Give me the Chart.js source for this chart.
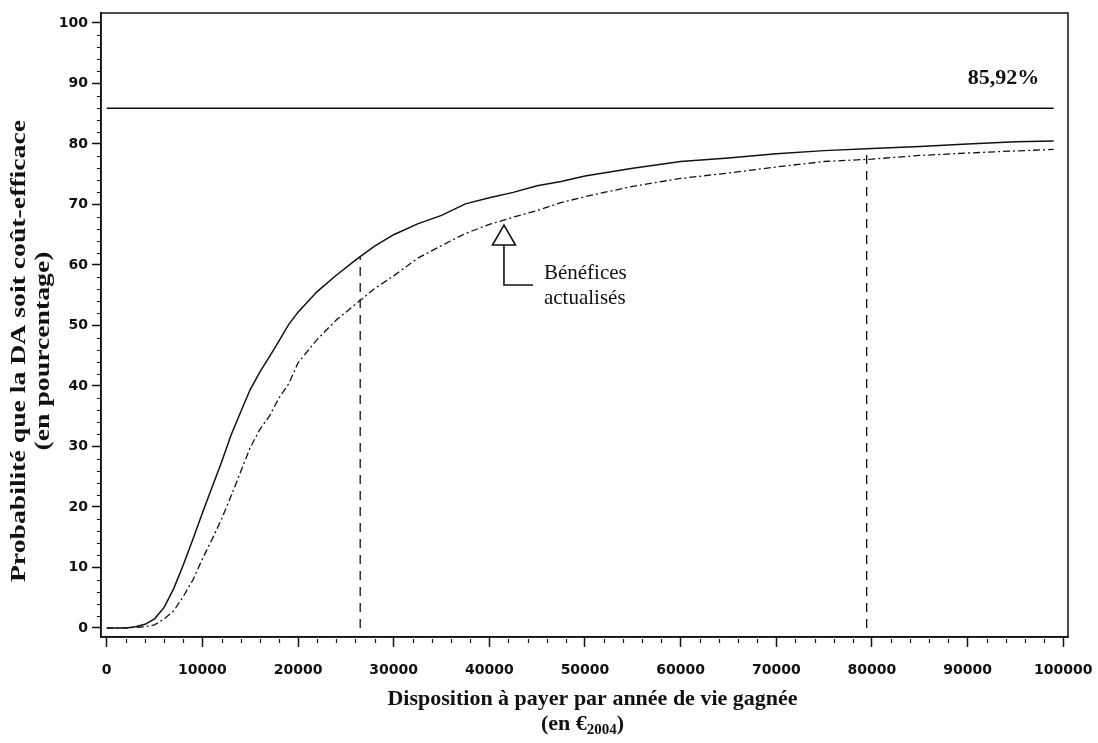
<!DOCTYPE html>
<html lang="fr">
<head>
    <meta charset="UTF-8">
    <title>Courbe d'acceptabilité</title>
    <script src="https://cdn.jsdelivr.net/npm/chart.js"></script>
    <style>
        body {
            margin: 0;
            padding: 0;
            background-color: #fff;
            overflow: hidden;
        }
    </style>
</head>
<body>
    <canvas id="ceacChart" width="1098" height="743"></canvas>

    <script>
        // Disposition à payer (euros 2004)
        const wtp = [0, 2000, 3000, 4000, 5000, 6000, 7000, 8000, 9000, 10000,
            11000, 12000, 13000, 14000, 15000, 16000, 17000, 18000, 19000, 20000,
            22000, 24000, 26000, 28000, 30000, 32500, 35000, 37500, 40000, 42500,
            45000, 47500, 50000, 55000, 60000, 65000, 70000, 75000, 80000, 85000,
            90000, 95000, 99000];

        // Probabilité coût-efficace (%), bénéfices non actualisés (trait plein)
        const probUndiscounted = [0, 0, 0.2, 0.6, 1.5, 3.4, 6.5, 10.4, 14.6, 19,
            23.2, 27.4, 31.9, 35.7, 39.4, 42.3, 44.8, 47.4, 50.1, 52.2,
            55.6, 58.3, 60.8, 63.1, 65, 66.8, 68.2, 70.1, 71.1, 72.0,
            73.1, 73.8, 74.7, 76.0, 77.1, 77.7, 78.4, 78.9, 79.25, 79.6,
            80.0, 80.35, 80.5];

        // Probabilité coût-efficace (%), bénéfices actualisés (trait mixte)
        const probDiscounted = [0, 0, 0.1, 0.2, 0.5, 1.5, 2.8, 5.2, 7.9, 11.4,
            14.6, 18.0, 21.8, 25.8, 29.8, 32.8, 35.0, 38.0, 40.3, 43.8,
            47.7, 50.9, 53.5, 56.1, 58.2, 61.1, 63.2, 65.2, 66.7, 67.9,
            69.0, 70.3, 71.3, 73.0, 74.3, 75.2, 76.2, 77.1, 77.5, 78.1,
            78.5, 78.85, 79.1];

        // Probabilité maximale
        const maxProb = 85.92;
        const maxProbX = [0, 99000];

        // Seuils marqués par des tirets verticaux
        const cutoffX = [26500, 79450];
        const cutoffY = [61.4, 79.2];

        // Ticks
        const xTicks = [0, 10000, 20000, 30000, 40000, 50000, 60000, 70000, 80000, 90000, 100000];
        const yTicks = [0, 10, 20, 30, 40, 50, 60, 70, 80, 90, 100];

        // Flèche "Bénéfices actualisés"
        const arrowPoint = { x: 41530, y: 66.6 };
        const arrowLabel = ['Bénéfices', 'actualisés'];

        const serif = '"Liberation Serif", "Times New Roman", serif';
        const tickFont = { family: '"DejaVu Sans", sans-serif', size: 14, weight: 'bold' };

        function toPoints(xs, ys) {
            return xs.map((x, i) => ({ x: x, y: ys[i] }));
        }

        const datasets = [
            {
                data: toPoints(wtp, probUndiscounted),
                borderColor: '#111',
                borderWidth: 1.5
            },
            {
                data: toPoints(wtp, probDiscounted),
                borderColor: '#111',
                borderWidth: 1.3,
                borderDash: [7, 3, 2, 3]
            },
            {
                data: toPoints(maxProbX, [maxProb, maxProb]),
                borderColor: '#111',
                borderWidth: 1.5
            }
        ];

        cutoffX.forEach((cx, i) => {
            datasets.push({
                data: [{ x: cx, y: 0 }, { x: cx, y: cutoffY[i] }],
                borderColor: '#111',
                borderWidth: 1.3,
                borderDash: [9, 7]
            });
        });

        // Cadre, petites graduations, textes et flèche
        const decorPlugin = {
            id: 'decor',
            afterDraw(chart) {
                const ctx = chart.ctx;
                const area = chart.chartArea;
                const xs = chart.scales.x;
                const ys = chart.scales.y;
                ctx.save();
                ctx.strokeStyle = '#111';
                ctx.fillStyle = '#111';

                // cadre
                ctx.lineWidth = 1.5;
                ctx.strokeRect(area.left, area.top, area.right - area.left, area.bottom - area.top);

                // petites graduations
                ctx.lineWidth = 1.2;
                ctx.beginPath();
                for (let v = 2000; v < 100000; v += 2000) {
                    if (v % 10000 === 0) continue;
                    const px = Math.round(xs.getPixelForValue(v)) + 0.5;
                    ctx.moveTo(px, area.bottom + 2);
                    ctx.lineTo(px, area.bottom + 6);
                }
                for (let v = 2; v < 101; v += 2) {
                    if (v % 10 === 0) continue;
                    const py = Math.round(ys.getPixelForValue(v)) + 0.5;
                    ctx.moveTo(area.left - 4, py);
                    ctx.lineTo(area.left - 1, py);
                }
                ctx.stroke();

                // valeur maximale
                ctx.font = 'bold 22px ' + serif;
                ctx.textAlign = 'right';
                ctx.textBaseline = 'alphabetic';
                ctx.fillText('85,92%', xs.getPixelForValue(97500), ys.getPixelForValue(90) + 1);

                // flèche
                const ax = xs.getPixelForValue(arrowPoint.x);
                const ay = ys.getPixelForValue(arrowPoint.y);
                ctx.lineWidth = 1.6;
                ctx.beginPath();
                ctx.moveTo(ax, ay);
                ctx.lineTo(ax - 11.5, ay + 20);
                ctx.lineTo(ax + 11.5, ay + 20);
                ctx.closePath();
                ctx.stroke();
                ctx.beginPath();
                ctx.moveTo(ax, ay + 20);
                ctx.lineTo(ax, ay + 60);
                ctx.lineTo(ax + 29, ay + 60);
                ctx.stroke();

                ctx.font = '21px ' + serif;
                ctx.textAlign = 'left';
                ctx.fillText(arrowLabel[0], ax + 40, ay + 54);
                ctx.fillText(arrowLabel[1], ax + 40, ay + 79);

                // titre de l'axe x
                const cx = (area.left + area.right) / 2 + 8;
                ctx.font = 'bold 22px ' + serif;
                ctx.textAlign = 'center';
                ctx.fillText('Disposition à payer par année de vie gagnée', cx, 705);

                const part1 = '(en €';
                const sub = '2004';
                const part2 = ')';
                ctx.font = 'bold 22px ' + serif;
                const w1 = ctx.measureText(part1).width;
                const w3 = ctx.measureText(part2).width;
                ctx.font = 'bold 15px ' + serif;
                const w2 = ctx.measureText(sub).width;
                let sx = cx - 10 - (w1 + w2 + w3) / 2;
                ctx.textAlign = 'left';
                ctx.font = 'bold 22px ' + serif;
                ctx.fillText(part1, sx, 730);
                ctx.font = 'bold 15px ' + serif;
                ctx.fillText(sub, sx + w1, 734);
                ctx.font = 'bold 22px ' + serif;
                ctx.fillText(part2, sx + w1 + w2, 730);

                // titre de l'axe y (étiré comme dans l'original)
                ctx.translate(0, 351);
                ctx.rotate(-Math.PI / 2);
                ctx.scale(1.26, 1);
                ctx.textAlign = 'center';
                ctx.fillText('Probabilité que la DA soit coût-efficace', 0, 25);
                ctx.fillText('(en pourcentage)', 0, 49);

                ctx.restore();
            }
        };

        new Chart(document.getElementById('ceacChart'), {
            type: 'line',
            data: { datasets: datasets },
            options: {
                responsive: false,
                animation: false,
                devicePixelRatio: 1,
                layout: { padding: { left: 0, top: 13, right: 30, bottom: 0 } },
                elements: {
                    point: { radius: 0 },
                    line: { tension: 0 }
                },
                plugins: {
                    legend: { display: false },
                    tooltip: { enabled: false }
                },
                scales: {
                    x: {
                        type: 'linear',
                        min: -600,
                        max: 100500,
                        afterFit: (scale) => {
                            scale.height = 106;
                            scale.paddingLeft = 0;
                            scale.paddingRight = 0;
                        },
                        afterBuildTicks: (scale) => { scale.ticks = xTicks.map(v => ({ value: v })); },
                        ticks: {
                            color: '#111',
                            font: tickFont,
                            padding: 15,
                            maxRotation: 0,
                            autoSkip: false,
                            callback: (v) => String(v)
                        },
                        grid: {
                            drawOnChartArea: false,
                            tickLength: 10,
                            tickColor: '#111',
                            tickWidth: 1.5
                        },
                        border: { color: '#111', width: 1.5 }
                    },
                    y: {
                        min: -1.5,
                        max: 101.65,
                        afterFit: (scale) => {
                            scale.width = 101;
                            scale.paddingTop = 0;
                            scale.paddingBottom = 0;
                        },
                        afterBuildTicks: (scale) => { scale.ticks = yTicks.map(v => ({ value: v })); },
                        ticks: {
                            color: '#111',
                            font: tickFont,
                            padding: 4,
                            callback: (v) => String(v)
                        },
                        grid: {
                            drawOnChartArea: false,
                            tickLength: 9,
                            tickColor: '#111',
                            tickWidth: 1.5
                        },
                        border: { color: '#111', width: 1.5 }
                    }
                }
            },
            plugins: [decorPlugin]
        });
    </script>
</body>
</html>
